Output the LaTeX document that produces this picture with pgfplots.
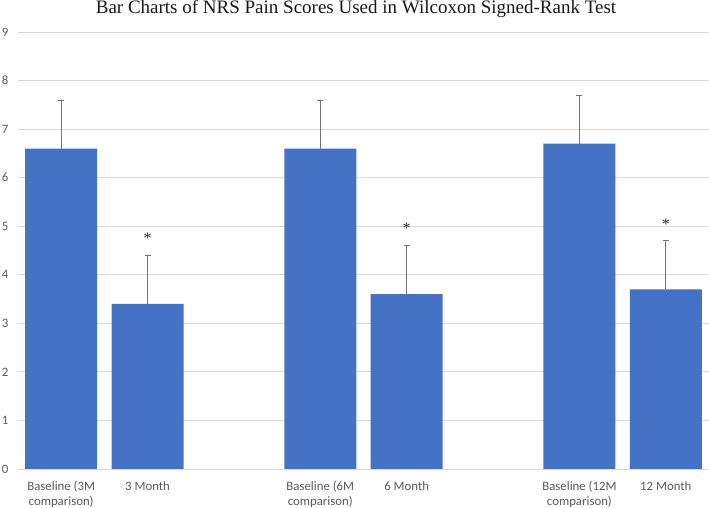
\documentclass[border=0pt]{standalone}
\usepackage{pgfplots}
\pgfplotsset{compat=1.18}
\usepackage{fontspec}
\setmainfont{Liberation Serif}
\newfontfamily\carlito{Carlito}
\definecolor{barblue}{RGB}{68,114,196}
\definecolor{gridgray}{RGB}{217,217,217}
\definecolor{ticktext}{RGB}{89,89,89}
\definecolor{errgray}{RGB}{115,115,115}
\begin{document}
\begin{tikzpicture}
\useasboundingbox (0,0) rectangle (709pt,508pt);
\begin{axis}[
  at={(18pt,39pt)}, anchor=south west,
  scale only axis, width=691pt, height=437pt,
  xmin=-0.5, xmax=7.5, ymin=0, ymax=9,
  ytick={0,1,...,9},
  xtick={0,1,3,4,6,7},
  xticklabels={{Baseline (3M\\comparison)},{3 Month},{Baseline (6M\\comparison)},{6 Month},{Baseline (12M\\comparison)},{12 Month}},
  axis line style={draw=none},
  ymajorgrids, grid style={gridgray, line width=0.8pt},
  major tick length=0pt,
  tick label style={font=\carlito\fontsize{12.8}{14.5}\selectfont, text=ticktext},
  /pgf/number format/assume math mode=true,
  xticklabel style={align=center, yshift=-9pt},
  yticklabel style={xshift=-6pt},
  clip=false,
]
\addplot[ybar, bar width=72pt, bar shift=0pt, fill=barblue, draw=none,
  error bars/.cd, y dir=plus, y explicit,
  error bar style={errgray, line width=0.8pt},
  error mark options={rotate=90, mark size=3pt, errgray, line width=0.8pt}]
  coordinates {
    (0,6.6) +- (0,1.0)
    (1,3.4) +- (0,1.0)
    (3,6.6) +- (0,1.0)
    (4,3.6) +- (0,1.0)
    (6,6.7) +- (0,1.0)
    (7,3.7) +- (0,1.0)
  };
\node[font=\fontsize{16}{16}\selectfont, text=black!85, anchor=base] at (axis cs:1,4.64) {*};
\node[font=\fontsize{16}{16}\selectfont, text=black!85, anchor=base] at (axis cs:4,4.84) {*};
\node[font=\fontsize{16}{16}\selectfont, text=black!85, anchor=base] at (axis cs:7,4.94) {*};
\end{axis}
\node[font=\fontsize{19}{21}\selectfont, anchor=base, text=black!90] at (356pt,494.5pt) {Bar Charts of NRS Pain Scores Used in Wilcoxon Signed-Rank Test};
\end{tikzpicture}
\end{document}
